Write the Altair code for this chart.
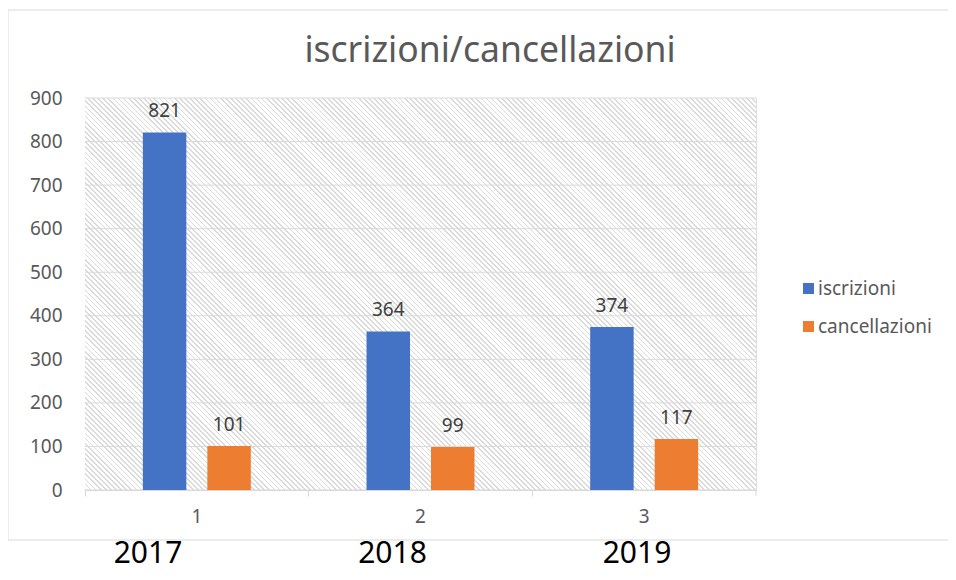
import altair as alt
import pandas as pd

# ---- data ----
categories = ["1", "2", "3"]
years = [2017, 2018, 2019]
series_names = ["iscrizioni", "cancellazioni"]
iscrizioni = [821, 364, 374]
cancellazioni = [101, 99, 117]
y_ticks = [0, 100, 200, 300, 400, 500, 600, 700, 800, 900]
title_text = "iscrizioni/cancellazioni"

colors = ["#4472C4", "#ED7D31"]
FONT = "Noto Sans"
W, H = 671, 392

rows = []
for c, a, b in zip(categories, iscrizioni, cancellazioni):
    rows.append({"cat": c, "series": series_names[0], "value": a})
    rows.append({"cat": c, "series": series_names[1], "value": b})
df = pd.DataFrame(rows)
df_years = pd.DataFrame({"yr": years, "label": [str(y) for y in years]})
df_grid = pd.DataFrame({"v": y_ticks})
one = pd.DataFrame({"a": [0]})

# ---- hatch gradient (diagonal stripes, 45 degrees) ----
r = H / W
k = (1 + r) / (1 + r * r)
diag = (W + H) / 2 ** 0.5
period = 3.6
n = int(diag / period)
frac = 0.33
stops = []
for i in range(n):
    a0 = i / n
    a1 = (i + frac) / n
    a2 = (i + 1) / n
    stops += [
        {"offset": a0, "color": "#dadada"},
        {"offset": a1, "color": "#dadada"},
        {"offset": a1, "color": "#ffffff"},
        {"offset": a2, "color": "#ffffff"},
    ]
hatch_fill = {"gradient": "linear", "x1": 0, "y1": 1, "x2": k, "y2": 1 - k * r, "stops": stops}

x_enc = alt.X(
    "cat:N",
    sort=categories,
    scale=alt.Scale(paddingInner=0, paddingOuter=0),
    axis=alt.Axis(
        title=None, labelAngle=0, domainColor="#d9d9d9", tickColor="#d9d9d9",
        tickSize=6, labelPadding=11, labelFontSize=19, labelColor="#595959",
        labelFont=FONT, bandPosition=0, zindex=1,
    ),
)
y_scale = alt.Scale(domain=[0, 900], nice=False)
xoff = alt.XOffset(
    "series:N", sort=series_names,
    scale=alt.Scale(paddingInner=0.326, paddingOuter=0.897),
)

frame = alt.Chart(one).mark_rect(fill="transparent", stroke="#d9d9d9", strokeWidth=1).encode(
    x=alt.value(-77), x2=alt.value(900), y=alt.value(-88), y2=alt.value(442)
)
hatch = alt.Chart(one).mark_rect(fill=hatch_fill).encode(
    x=alt.value(0), x2=alt.value(W), y=alt.value(0), y2=alt.value(H)
)
grid = alt.Chart(df_grid).mark_rule(color="#d9d9d9", strokeWidth=1).encode(
    y=alt.Y("v:Q", scale=y_scale), x=alt.value(0), x2=alt.value(W)
)
bars = alt.Chart(df).mark_bar().encode(
    x=x_enc,
    xOffset=xoff,
    y=alt.Y(
        "value:Q", scale=y_scale,
        axis=alt.Axis(
            title=None, values=y_ticks, grid=False, domain=False, ticks=False,
            labelPadding=23, labelFontSize=19, labelColor="#595959", labelFont=FONT,
        ),
    ),
    color=alt.Color(
        "series:N",
        scale=alt.Scale(domain=series_names, range=colors),
        legend=alt.Legend(
            title=None, orient="none", legendX=714, legendY=181,
            symbolType="square", symbolSize=121, symbolStrokeWidth=0,
            labelFontSize=19, labelColor="#595959", labelFont=FONT,
            rowPadding=18, labelOffset=0, padding=0,
        ),
    ),
)
labels = alt.Chart(df).mark_text(
    baseline="alphabetic", dy=-15, fontSize=19, color="#404040", font=FONT
).encode(x=x_enc, xOffset=xoff, y=alt.Y("value:Q", scale=y_scale), text="value:Q")

title = alt.Chart(one).mark_text(
    text=title_text, fontSize=35.5, color="#595959", font=FONT,
    baseline="alphabetic", align="center",
).encode(x=alt.value(405), y=alt.value(-36))

main = alt.layer(frame, hatch, grid, bars, labels, title)

# years written below the chart frame (document text under the chart)
year_text = alt.Chart(df_years).mark_text(
    baseline="alphabetic", fontSize=30, color="#000000", font=FONT
).encode(
    x=alt.X("yr:Q", scale=alt.Scale(domain=[2017, 2019], range=[63, 552]), axis=None),
    y=alt.value(465),
    text="label:N",
)

end_tick = alt.Chart(one).mark_rule(color="#d9d9d9").encode(
    x=alt.value(W), y=alt.value(H), y2=alt.value(H + 6)
)

chart = alt.layer(main, year_text, end_tick).resolve_scale(x="independent").properties(
    width=W, height=H,
    autosize=alt.AutoSizeParams(type="none"),
    padding={"left": 77, "top": 90, "right": 192, "bottom": 82},
).configure_view(stroke=None).configure(background="white")

chart.save("out.html", embed_options={"renderer": "svg", "actions": False})
